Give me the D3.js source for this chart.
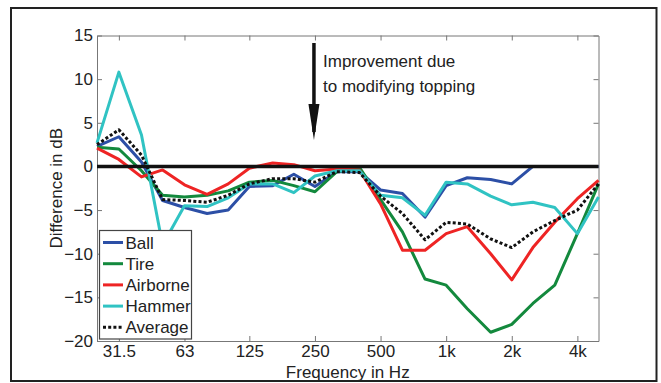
<!DOCTYPE html>
<html>
<head>
<meta charset="utf-8">
<script src="https://cdn.jsdelivr.net/npm/d3@7"></script>
<style>
  body { margin: 0; background: #fff; }
  text { font-family: "Liberation Sans", Arial, sans-serif; fill: #222; }
</style>
</head>
<body>
<div class="svg"></div>
<script>
var width = 661;
var height = 383;

// 1/3 octave band centre frequencies
var freqs = [25, 31.5, 40, 50, 63, 80, 100, 125, 160, 200, 250, 315, 400, 500, 630, 800, 1000, 1250, 1600, 2000, 2500, 3150, 4000, 5000];

var ball     = [2.3, 3.4, 0.5, -3.9, -4.7, -5.4, -5.0, -2.3, -2.2, -0.9, -2.3, -0.6, -0.6, -2.7, -3.1, -5.8, -2.2, -1.3, -1.5, -2.0, 0, 0, 0, 0];
var tire     = [2.2, 2.0, -0.5, -3.3, -3.5, -3.3, -2.8, -1.8, -1.6, -2.2, -2.9, -0.6, -0.1, -3.8, -7.5, -12.9, -13.6, -16.3, -19.0, -18.1, -15.7, -13.6, -7.7, -2.0];
var airborne = [2.1, 0.8, -1.2, -0.4, -2.1, -3.2, -2.0, -0.2, 0.4, 0.2, -0.5, -0.3, -0.4, -4.3, -9.6, -9.6, -7.7, -6.9, -10.0, -13.0, -9.3, -6.4, -3.7, -1.6];
var hammer   = [2.7, 10.8, 3.6, -9.0, -4.5, -4.6, -3.6, -2.0, -2.0, -3.0, -1.1, -0.5, -0.5, -3.3, -3.6, -5.6, -1.8, -2.0, -3.4, -4.4, -4.1, -4.7, -7.7, -3.5];
var average  = [2.5, 4.2, 1.3, -3.8, -3.9, -4.1, -3.3, -2.0, -1.4, -1.4, -1.8, -0.6, -0.7, -3.4, -5.4, -8.4, -6.4, -6.6, -8.3, -9.3, -7.5, -6.2, -5.0, -2.0];

var seriesNames = ["Ball", "Tire", "Airborne", "Hammer", "Average"];
var seriesColors = ["#2c4fa6", "#13893d", "#ee2424", "#30c3c3", "#111111"];
var seriesValues = [ball, tire, airborne, hammer, average];

var xTicks = [31.5, 63, 125, 250, 500, 1000, 2000, 4000];
var xTickLabels = ["31.5", "63", "125", "250", "500", "1k", "2k", "4k"];
var yTicks = [15, 10, 5, 0, -5, -10, -15, -20];

var margin = {top: 35.5, right: 62.5, bottom: 42, left: 97};

var svg = d3.select("div.svg")
	.append("svg")
	.attr("width", width)
	.attr("height", height);

// outer frame of the figure
svg.append("rect")
	.attr("x", 11).attr("y", 8)
	.attr("width", 645.5).attr("height", 373)
	.attr("fill", "none")
	.attr("stroke", "#222")
	.attr("stroke-width", 2);

var x = d3.scaleLog()
	.domain([25, 5000])
	.range([margin.left, width - margin.right]);

var y = d3.scaleLinear()
	.domain([-20, 15])
	.range([height - margin.bottom, margin.top]);

var axisColor = "#777";

var xAxis = d3.axisBottom(x)
	.tickValues(xTicks)
	.tickFormat(function(d, i){ return xTickLabels[i]; })
	.tickSizeInner(-5)
	.tickSizeOuter(0)
	.tickPadding(4);

var xAxisTop = d3.axisTop(x)
	.tickValues(xTicks)
	.tickFormat("")
	.tickSizeInner(-5)
	.tickSizeOuter(0);

var yAxis = d3.axisLeft(y)
	.tickValues(yTicks)
	.tickSizeInner(-5)
	.tickSizeOuter(0)
	.tickPadding(4);

var yAxisRight = d3.axisRight(y)
	.tickValues(yTicks)
	.tickFormat("")
	.tickSizeInner(-5)
	.tickSizeOuter(0);

var gx = svg.append("g")
	.attr("transform", `translate(0,${height - margin.bottom})`)
	.call(xAxis);
var gxt = svg.append("g")
	.attr("transform", `translate(0,${margin.top})`)
	.call(xAxisTop);
var gy = svg.append("g")
	.attr("transform", `translate(${margin.left},0)`)
	.call(yAxis);
var gyr = svg.append("g")
	.attr("transform", `translate(${width - margin.right},0)`)
	.call(yAxisRight);

[gx, gxt, gy, gyr].forEach(function(g){
	g.select(".domain").attr("stroke", axisColor);
	g.selectAll(".tick line").attr("stroke", axisColor);
	g.selectAll(".tick text")
		.style("font-family", '"Liberation Sans", Arial, sans-serif')
		.style("font-size", "17px")
		.attr("fill", "#222");
});

// data lines
var line = d3.line()
	.x(function(d, i){ return x(freqs[i]); })
	.y(function(d){ return y(d); });

seriesValues.forEach(function(vals, k){
	var p = svg.append("path")
		.datum(vals)
		.attr("fill", "none")
		.attr("stroke", seriesColors[k])
		.attr("stroke-width", 3)
		.attr("stroke-linejoin", "round")
		.attr("d", line);
	if (seriesNames[k] == "Average") {
		p.attr("stroke-dasharray", "3,2.2");
	}
});

// zero line
svg.append("line")
	.attr("x1", x(25)).attr("x2", x(5000))
	.attr("y1", y(0)).attr("y2", y(0))
	.attr("stroke", "#111")
	.attr("stroke-width", 3.5);

// annotation arrow
var ax = x(250) - 1;
svg.append("line")
	.attr("x1", ax).attr("x2", ax)
	.attr("y1", 43).attr("y2", 132)
	.attr("stroke", "#111")
	.attr("stroke-width", 3.5);
svg.append("path")
	.attr("d", `M${ax - 5.5},104 L${ax + 5.5},104 L${ax},140 Z`)
	.attr("fill", "#111");

svg.append("text")
	.attr("x", 323).attr("y", 67)
	.style("font-size", "17px")
	.text("Improvement due");
svg.append("text")
	.attr("x", 323).attr("y", 92)
	.style("font-size", "17px")
	.text("to modifying topping");

// axis titles
svg.append("text")
	.attr("x", (x(25) + x(5000)) / 2)
	.attr("y", 377.5)
	.attr("text-anchor", "middle")
	.style("font-size", "17px")
	.text("Frequency in Hz");

svg.append("text")
	.attr("transform", `translate(62,${(y(15) + y(-20)) / 2}) rotate(-90)`)
	.attr("text-anchor", "middle")
	.style("font-size", "17px")
	.text("Difference in dB");

// legend
var lg = svg.append("g");
lg.append("rect")
	.attr("x", 99.5).attr("y", 230.5)
	.attr("width", 92).attr("height", 108.5)
	.attr("fill", "#fff")
	.attr("stroke", "#444")
	.attr("stroke-width", 1.2);

seriesNames.forEach(function(name, k){
	var cy = 242.5 + k * 21.2;
	var l = lg.append("line")
		.attr("x1", 103).attr("x2", 123)
		.attr("y1", cy).attr("y2", cy)
		.attr("stroke", seriesColors[k])
		.attr("stroke-width", 3);
	if (name == "Average") l.attr("stroke-dasharray", "3,2.2");
	lg.append("text")
		.attr("x", 125.5).attr("y", cy + 6)
		.style("font-size", "17px")
		.text(name);
});
</script>
</body>
</html>
